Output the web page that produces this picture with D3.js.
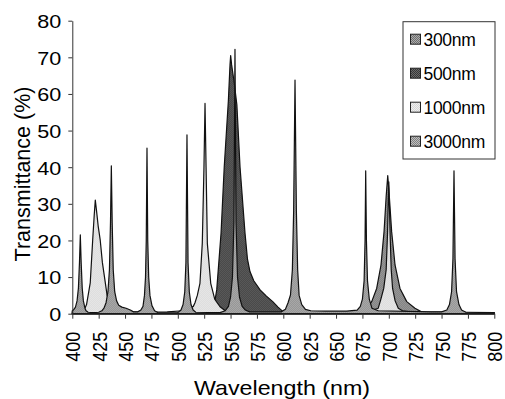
<!DOCTYPE html>
<html>
<head>
<meta charset="utf-8">
<script src="https://cdn.jsdelivr.net/npm/d3@7/dist/d3.min.js"></script>
<style>
  body { margin: 0; background: #fff; }
  svg { display: block; }
  text { font-family: "Liberation Sans", Arial, sans-serif; fill: #000; }
</style>
</head>
<body>
<div id="chart"></div>
<script>
// Series names (legend order)
const seriesNames = ['300nm', '500nm', '1000nm', '3000nm'];

// Tick labels
const xTicks = [400, 425, 450, 475, 500, 525, 550, 575, 600, 625, 650, 675, 700, 725, 750, 775, 800];
const yTicks = [0, 10, 20, 30, 40, 50, 60, 70, 80];

// [wavelength (nm), transmittance (%)]
const s300 = [
  [400, 0], [660, 0], [672, 0.5], [679.3, 1.5], [683.8, 3.3], [688.5, 6.9], [692.6, 13.3],
  [695.5, 22.4], [697.5, 32], [699, 37.7], [700.5, 32], [702.7, 22.4], [705.9, 13.3],
  [710.6, 6.9], [717, 3.3], [724.8, 1.5], [731, 0.5], [740, 0], [800, 0]
];
const s500 = [
  [400, 0], [525, 0], [532, 0.5], [534.3, 2], [536.9, 6.5], [541, 22], [544, 40], [547.9, 58],
  [549.5, 68], [550.1, 70.5], [551, 68], [553.5, 63], [556, 57], [559, 40], [563.7, 22],
  [566, 15], [568.4, 11.5], [572, 9], [578, 6.5], [584, 4.8], [590, 3.3], [595, 1.8],
  [600, 0.5], [606, 0], [800, 0]
];
const s1000 = [
  [400, 0.5], [405, 0.7], [410, 1], [412, 1.5], [413.5, 2.5], [415, 5], [417, 8.4], [419.3, 20],
  [420.8, 27], [421.8, 31], [423, 28], [424.5, 24], [426.5, 20], [428.5, 14], [431.3, 8.4],
  [433, 5], [436, 2.5], [440, 1.2], [450, 0.6], [470, 0.4], [490, 0.5], [505, 0.8], [510, 1.2],
  [514.7, 2], [516.3, 3], [518.5, 5], [521, 8.3], [523.2, 19.2], [524.8, 40], [525.8, 57.4],
  [526.8, 40], [528, 19.2], [531.2, 8.3], [535, 4], [540, 1.9], [545, 0.8], [555, 0.4],
  [600, 0.3], [650, 0.3], [675, 0.5], [685, 1], [690, 1.5], [692.5, 4], [695.2, 6.9],
  [697.5, 12], [698.8, 22], [699.6, 32], [700, 36], [700.4, 32], [701.2, 22], [702.3, 12],
  [703.6, 6.9], [706, 3.5], [709, 1.5], [713, 0.8], [720, 0.5], [800, 0.3]
];
const s3000 = [
  [400, 0.8], [401, 1], [403, 1.8], [404.5, 3.5], [405.8, 7], [406.8, 14], [407.6, 21.5],
  [408.4, 14], [409.4, 7], [410.5, 3.5], [412, 1.5], [413, 0.8], [415, 0.4], [420, 0.3],
  [425, 0.4], [428, 0.8], [430, 1.5], [432, 3], [433.8, 6], [435.2, 12], [436.2, 25],
  [437, 40.4], [437.8, 25], [438.8, 12], [440.2, 6], [442, 3.5], [444, 2.3], [447, 1.8],
  [451, 1.5], [455, 1], [458, 0.5], [462, 0.5], [465, 1], [467, 2], [468.4, 5], [469.4, 10],
  [470.1, 20], [470.8, 45.2], [471.5, 20], [472.4, 10], [473.6, 5], [475.5, 2.2], [478, 0.8],
  [481, 0.3], [490, 0.2], [500, 0.3], [503, 1], [505, 2.5], [506.6, 6], [507.7, 14],
  [508.7, 48.8], [509.7, 14], [510.9, 6], [512.5, 2.5], [514.5, 1], [517, 0.4], [540, 0.3],
  [545, 0.8], [548, 2], [550, 4.5], [551.8, 10], [553.2, 25], [554.2, 72.2], [555.2, 25],
  [556.6, 10], [558.5, 4.5], [561, 2], [564, 1], [568, 0.5], [598, 0.5], [602, 1.2],
  [604.5, 3], [606.8, 5.1], [608.6, 12], [609.8, 28], [611.1, 63.8], [612.4, 28], [613.6, 12],
  [615, 5], [617.5, 2.5], [621, 1.2], [626, 0.8], [640, 0.7], [660, 0.7], [670, 1], [673, 2],
  [675, 4], [676.6, 9], [677.5, 20], [678.1, 39], [678.8, 20], [679.8, 9], [681.5, 4],
  [684, 1.5], [690, 0.8], [740, 0.5], [750, 0.5], [755, 1], [757.5, 2.5], [759.5, 6],
  [760.8, 15], [761.8, 39], [762.8, 15], [764.2, 6], [766.5, 2.5], [769, 1], [773, 0.4], [800, 0.3]
];
const seriesData = [s300, s500, s1000, s3000];

// Layout
const width = 505;
const height = 399;
const margin = { top: 20.7, left: 72.3, right: 10.7, bottom: 85.3 };
const plotWidth = width - margin.left - margin.right;
const plotHeight = height - margin.top - margin.bottom;

// dithered fills: [dark pixel, light pixel]
const fills = [['#5a5a5a', '#c0c0c0'], ['#262626', '#7c7c7c'], ['#cdcdcd', '#f6f6f6'], ['#6c6c6c', '#d2d2d2']];

const svg = d3.select('#chart').append('svg')
  .attr('width', width)
  .attr('height', height);

const defs = svg.append('defs');
fills.forEach((f, i) => {
  const p = defs.append('pattern')
    .attr('id', 'pat' + i)
    .attr('patternUnits', 'userSpaceOnUse')
    .attr('width', 2).attr('height', 2);
  p.append('rect').attr('width', 2).attr('height', 2).attr('fill', f[1]);
  p.append('rect').attr('width', 1).attr('height', 1).attr('fill', f[0]);
  p.append('rect').attr('x', 1).attr('y', 1).attr('width', 1).attr('height', 1).attr('fill', f[0]);
});

const plot = svg.append('g')
  .attr('transform', `translate(${margin.left}, ${margin.top})`);

const xScale = d3.scaleLinear().domain([400, 800]).range([0, plotWidth]);
const yScale = d3.scaleLinear().domain([0, 80]).range([plotHeight, 0]);

// areas, first series at the back
const area = d3.area()
  .x(d => xScale(d[0]))
  .y0(yScale(0))
  .y1(d => yScale(d[1]));

plot.selectAll('path.area')
  .data(seriesData)
  .enter().append('path')
    .attr('class', 'area')
    .attr('d', area)
    .attr('fill', (d, i) => `url(#pat${i})`)
    .attr('stroke', '#111')
    .attr('stroke-width', 1.2)
    .attr('stroke-linejoin', 'round');

// axes
const yAxis = plot.append('g')
  .call(d3.axisLeft(yScale).tickValues(yTicks).tickSize(4).tickSizeOuter(0).tickPadding(7));
yAxis.select('.domain').attr('stroke', '#333');
yAxis.selectAll('line').attr('stroke', '#333');
yAxis.selectAll('text')
  .attr('font-size', 19)
  .attr('textLength', d => String(d).length * 12)
  .attr('lengthAdjust', 'spacingAndGlyphs')
  .attr('dy', '0.36em');

const xAxis = plot.append('g')
  .attr('transform', `translate(0, ${plotHeight})`)
  .call(d3.axisBottom(xScale).tickValues(xTicks).tickSize(5).tickSizeOuter(0));
xAxis.select('.domain').attr('stroke', '#333');
xAxis.selectAll('line').attr('stroke', '#333');
xAxis.selectAll('text')
  .attr('font-size', 19.5)
  .attr('textLength', 30)
  .attr('lengthAdjust', 'spacingAndGlyphs')
  .attr('text-anchor', 'end')
  .attr('dy', null)
  .attr('y', 0)
  .attr('dominant-baseline', 'central')
  .attr('transform', 'translate(0.5, 18) rotate(-90)');

// axis titles
svg.append('text')
  .attr('transform', 'translate(29.5, 174) rotate(-90)')
  .attr('text-anchor', 'middle')
  .attr('font-size', 21.5)
  .text('Transmittance (%)');

svg.append('text')
  .attr('x', 282)
  .attr('y', 395)
  .attr('text-anchor', 'middle')
  .attr('font-size', 21)
  .attr('textLength', 176)
  .attr('lengthAdjust', 'spacingAndGlyphs')
  .text('Wavelength (nm)');

// legend
const legend = svg.append('g').attr('transform', 'translate(403, 21.7)');
legend.append('rect')
  .attr('width', 92).attr('height', 137.3)
  .attr('fill', '#fff').attr('stroke', '#333');
const items = legend.selectAll('g.item')
  .data(seriesNames)
  .enter().append('g')
    .attr('class', 'item')
    .attr('transform', (d, i) => `translate(0, ${17.5 + i * 34})`);
items.append('rect')
  .attr('x', 7.5).attr('y', -5)
  .attr('width', 10).attr('height', 10)
  .attr('fill', (d, i) => `url(#pat${i})`)
  .attr('stroke', '#222');
items.append('text')
  .attr('x', 20.5)
  .attr('dy', '0.36em')
  .attr('font-size', 17.5)
  .attr('letter-spacing', -0.3)
  .text(d => d);
</script>
</body>
</html>
